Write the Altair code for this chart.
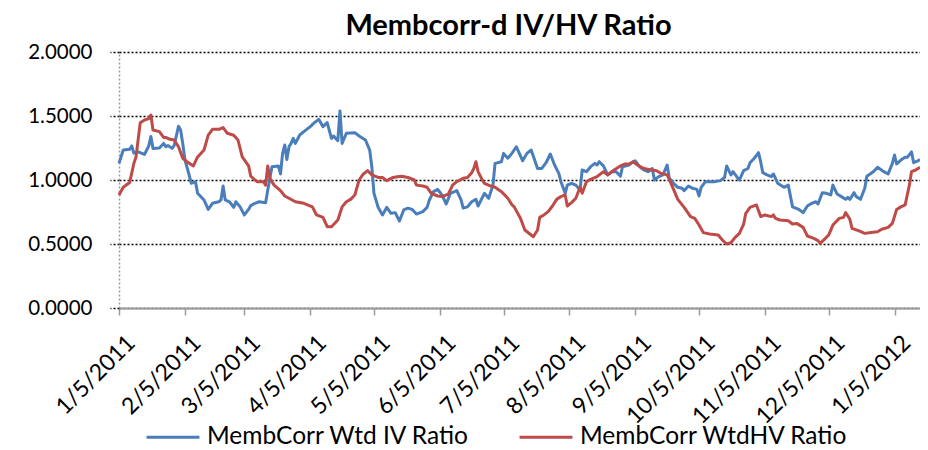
import altair as alt
import pandas as pd

# ---- data (day offsets from 2011-01-05, ratio values) ----
iv_days = [0, 2, 5, 6, 7, 9, 12, 14, 15, 16, 19, 21, 22, 23, 25, 26, 28, 29, 30, 31,
           33, 34, 36, 37, 40, 42, 44, 47, 48, 49, 50, 52, 54, 55, 57, 59, 61, 62, 64, 66,
           69, 70, 72, 75, 76, 77, 78, 79, 80, 81, 82, 83, 85, 87, 90, 92, 94, 96, 98, 100,
           101, 103, 104, 105, 107, 111, 113, 116, 118, 119, 120, 122, 124, 126, 128, 130, 132, 134, 136, 138,
           140, 143, 145, 146, 148, 150, 152, 154, 156, 159, 161, 162, 164, 166, 168, 169, 172, 174, 176, 177,
           180, 181, 183, 185, 187, 190, 192, 194, 197, 199, 201, 203, 205, 207, 208, 210, 211, 213, 215, 217,
           218, 220, 222, 224, 225, 226, 228, 230, 232, 234, 236, 237, 240, 242, 243, 245, 247, 249, 251, 252,
           254, 256, 258, 259, 261, 263, 265, 266, 268, 270, 272, 273, 274, 276, 280, 283, 285, 286, 288, 289,
           291, 292, 294, 296, 297, 299, 301, 302, 303, 305, 307, 308, 310, 313, 315, 317, 320, 322, 324, 326,
           328, 329, 331, 333, 335, 336, 338, 340, 342, 343, 344, 346, 347, 349, 351, 352, 355, 357, 360, 362,
           364, 365, 366, 368, 370, 371, 373, 374, 376, 377]
iv_vals = [1.13, 1.234, 1.24, 1.266, 1.21, 1.22, 1.20, 1.266, 1.34, 1.247, 1.25, 1.286, 1.26, 1.27, 1.247, 1.27, 1.42, 1.39, 1.286, 1.16,
           1.04, 0.974, 0.987, 0.896, 0.844, 0.77, 0.818, 0.83, 0.844, 0.953, 0.844, 0.83, 0.786, 0.83, 0.79, 0.727, 0.77, 0.80, 0.818, 0.83,
           0.823, 0.92, 1.104, 1.11, 1.047, 1.208, 1.273, 1.16, 1.26, 1.286, 1.325, 1.286, 1.35, 1.378, 1.417, 1.448, 1.474, 1.417, 1.448, 1.325,
           1.344, 1.307, 1.54, 1.286, 1.365, 1.37, 1.344, 1.3125, 1.234, 1.104, 0.896, 0.785, 0.727, 0.786, 0.74, 0.745, 0.68, 0.766, 0.78, 0.77,
           0.734, 0.753, 0.786, 0.84, 0.909, 0.927, 0.883, 0.8125, 0.896, 0.917, 0.844, 0.78, 0.79, 0.83, 0.849, 0.797, 0.896, 0.857, 0.96, 1.13,
           1.143, 1.208, 1.17, 1.21, 1.26, 1.15, 1.208, 1.234, 1.09, 1.09, 1.135, 1.203, 1.117, 1.052, 0.987, 0.896, 0.96, 0.974, 0.96, 0.922,
           1.078, 1.065, 1.104, 1.13, 1.117, 1.143, 1.11, 1.04, 1.065, 1.065, 1.03, 1.104, 1.117, 1.143, 1.15, 1.104, 1.08, 1.065, 1.09, 1.0,
           1.026, 1.04, 1.117, 1.013, 0.974, 0.943, 0.935, 0.917, 0.953, 0.935, 0.927, 0.875, 0.943, 0.987, 0.987, 0.995, 1.02, 1.11, 1.04, 1.065,
           1.02, 1.0, 1.073, 1.09, 1.135, 1.17, 1.214, 1.143, 1.057, 1.04, 1.026, 1.047, 0.975, 0.943, 0.96, 0.79, 0.77, 0.745, 0.797, 0.818,
           0.83, 0.8125, 0.901, 0.896, 0.883, 0.96, 0.89, 0.87, 0.849, 0.865, 0.849, 0.901, 0.87, 0.849, 0.935, 1.03, 1.065, 1.099, 1.065, 1.047,
           1.13, 1.195, 1.125, 1.156, 1.177, 1.177, 1.22, 1.135, 1.15, 1.16]

hv_days = [0, 2, 5, 7, 8, 10, 12, 14, 15, 16, 19, 21, 22, 24, 26, 28, 30, 32, 35, 37,
           40, 42, 44, 47, 49, 51, 54, 56, 58, 61, 62, 64, 65, 68, 69, 70, 71, 73, 76, 78,
           80, 83, 87, 91, 93, 96, 98, 100, 103, 105, 107, 109, 111, 113, 115, 117, 119, 122, 124, 126,
           129, 131, 133, 136, 139, 140, 143, 145, 147, 150, 152, 155, 157, 159, 162, 164, 166, 167, 168, 169,
           171, 172, 175, 177, 180, 183, 185, 186, 189, 191, 194, 195, 197, 198, 200, 202, 204, 206, 208, 210,
           211, 213, 215, 217, 218, 220, 222, 225, 228, 230, 233, 236, 238, 240, 242, 244, 247, 250, 253, 255,
           258, 259, 261, 263, 266, 269, 271, 273, 275, 278, 282, 284, 286, 288, 290, 292, 294, 295, 297, 300,
           302, 304, 307, 308, 309, 311, 315, 317, 319, 322, 324, 327, 329, 330, 332, 334, 336, 339, 341, 342,
           344, 345, 348, 351, 354, 357, 359, 362, 364, 366, 368, 370, 371, 372, 373, 375, 377]
hv_vals = [0.883, 0.943, 0.98, 1.13, 1.18, 1.448, 1.469, 1.48, 1.508, 1.39, 1.378, 1.333, 1.333, 1.318, 1.3125, 1.26, 1.17, 1.143, 1.11, 1.18,
           1.234, 1.35, 1.396, 1.396, 1.41, 1.365, 1.35, 1.3125, 1.18, 1.11, 1.03, 1.0, 0.987, 0.987, 0.96, 1.11, 1.013, 0.96, 0.917, 0.875,
           0.857, 0.83, 0.818, 0.79, 0.727, 0.708, 0.635, 0.635, 0.6875, 0.79, 0.83, 0.849, 0.883, 1.0, 1.047, 1.073, 1.04, 1.02, 1.02, 0.995,
           1.02, 1.026, 1.03, 1.02, 1.0, 0.96, 0.953, 0.943, 0.896, 0.875, 0.87, 0.89, 0.96, 0.987, 1.013, 1.02, 1.057, 1.09, 1.143, 1.065,
           1.0, 0.974, 0.953, 0.943, 0.909, 0.857, 0.805, 0.79, 0.70, 0.609, 0.57, 0.557, 0.609, 0.708, 0.727, 0.753, 0.797, 0.849, 0.87, 0.883,
           0.797, 0.823, 0.857, 0.943, 0.896, 0.987, 1.005, 1.026, 1.065, 1.04, 1.078, 1.11, 1.125, 1.125, 1.143, 1.117, 1.09, 1.08, 1.073, 1.052,
           1.04, 1.005, 0.927, 0.849, 0.786, 0.714, 0.70, 0.648, 0.589, 0.578, 0.57, 0.531, 0.5, 0.51, 0.552, 0.583, 0.656, 0.74, 0.786, 0.805,
           0.714, 0.727, 0.714, 0.727, 0.70, 0.6875, 0.682, 0.656, 0.661, 0.63, 0.5625, 0.544, 0.526, 0.505, 0.536, 0.57, 0.648, 0.70, 0.708, 0.745,
           0.693, 0.622, 0.604, 0.583, 0.589, 0.596, 0.615, 0.63, 0.661, 0.77, 0.79, 0.805, 0.883, 0.96, 1.065, 1.078, 1.099]

series_names = ["MembCorr Wtd IV Ratio", "MembCorr WtdHV Ratio"]
series_colors = ["#4A7EBB", "#BE4B48"]
y_ticks = [0, 0.5, 1.0, 1.5, 2.0]
tick_months = [(2011, m) for m in range(1, 13)] + [(2012, 1)]

base_date = pd.Timestamp("2011-01-05")
df_iv = pd.DataFrame({"date": base_date + pd.to_timedelta(iv_days, unit="D"),
                      "value": iv_vals, "series": series_names[0]})
df_hv = pd.DataFrame({"date": base_date + pd.to_timedelta(hv_days, unit="D"),
                      "value": hv_vals, "series": series_names[1]})
df = pd.concat([df_iv, df_hv], ignore_index=True)

FONT = "Lato"

x_enc = alt.X(
    "date:T",
    scale=alt.Scale(domain=[alt.DateTime(year=2011, month=1, date=5),
                            alt.DateTime(year=2012, month=1, date=17)]),
    axis=alt.Axis(
        values=[alt.DateTime(year=y, month=m, date=5) for (y, m) in tick_months],
        format="%-m/%-d/%Y",
        labelAngle=-45,
        labelAlign="right",
        labelBaseline="middle",
        labelOffset=12,
        labelPadding=24,
        labelFont=FONT,
        labelFontSize=23,
        labelColor="#000000",
        labelOverlap=False,
        labelFlush=False,
        domainColor="#9a9a9a",
        domainWidth=2,
        tickColor="#9a9a9a",
        tickWidth=1.5,
        tickSize=7,
        grid=False,
        title=None,
    ),
)
y_enc = alt.Y(
    "value:Q",
    scale=alt.Scale(domain=[0, 2], nice=False, zero=True),
    axis=alt.Axis(
        values=y_ticks,
        format=".4f",
        labelFont=FONT,
        labelFontSize=20.5,
        labelColor="#000000",
        labelPadding=18,
        domainColor="#9a9a9a",
        domainDash=[2, 2],
        domainWidth=1.5,
        tickColor="#000000",
        tickDash=[2, 2],
        tickWidth=1.5,
        tickSize=9,
        grid=True,
        gridColor="#000000",
        gridDash=[2, 2],
        gridWidth=1.5,
        title=None,
    ),
)
color_enc = alt.Color(
    "series:N",
    scale=alt.Scale(domain=series_names, range=series_colors),
    legend=alt.Legend(
        orient="none",
        legendX=26,
        legendY=357,
        direction="horizontal",
        title=None,
        symbolType="stroke",
        symbolSize=2800,
        symbolStrokeWidth=3,
        labelFont=FONT,
        labelFontSize=24.5,
        labelColor="#000000",
        labelOffset=6,
        columnPadding=43,
        padding=0,
        labelLimit=400,
    ),
)

base = alt.Chart(df)
line_iv = base.transform_filter(alt.datum.series == series_names[0]).mark_line(
    strokeWidth=3, strokeJoin="round").encode(x=x_enc, y=y_enc, color=color_enc)
line_hv = base.transform_filter(alt.datum.series == series_names[1]).mark_line(
    strokeWidth=3, strokeJoin="round").encode(x=x_enc, y=y_enc, color=color_enc)

chart = alt.layer(line_iv, line_hv).properties(
    width=801,
    height=256,
    title=alt.TitleParams(
        "Membcorr-d IV/HV Ratio",
        font=FONT,
        fontSize=29,
        fontWeight="bold",
        color="#000000",
        anchor="middle",
        offset=1,
        dx=-11,
    ),
    autosize=alt.AutoSizeParams(type="none"),
    padding={"left": 111, "top": 44, "right": 0, "bottom": 141},
).configure_view(stroke=None).configure_axis(domainCap="butt")

chart.save("out.html", embed_options={"renderer": "svg", "actions": False})
